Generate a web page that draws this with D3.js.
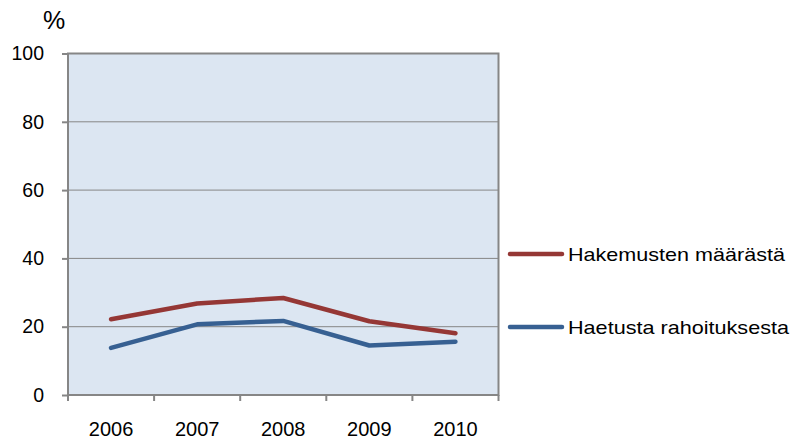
<!DOCTYPE html>
<html>
<head>
<meta charset="utf-8">
<script src="https://cdn.jsdelivr.net/npm/d3@7"></script>
<style>
  body { margin: 0; background: #fff; }
  text { font-family: "Liberation Sans", Arial, sans-serif; fill: #000; }
</style>
</head>
<body>
<svg id="chart" width="792" height="443"></svg>
<script>
var years = ["2006", "2007", "2008", "2009", "2010"];
var hakemusten = [22.2, 26.8, 28.4, 21.6, 18.1];
var haetusta = [13.8, 20.7, 21.7, 14.5, 15.6];
var yTicks = [0, 20, 40, 60, 80, 100];
var seriesNames = ["Hakemusten määrästä", "Haetusta rahoituksesta"];
var seriesColors = ["#953735", "#376092"];

var svg = d3.select("#chart");
var plotLeft = 68, plotRight = 498.5, plotTop = 53.5, plotBottom = 395;

var x = d3.scaleBand().domain(years).range([plotLeft, plotRight]);
var y = d3.scaleLinear().domain([0, 100]).range([plotBottom, plotTop]);

// plot area
svg.append("rect")
  .attr("x", plotLeft).attr("y", plotTop)
  .attr("width", plotRight - plotLeft).attr("height", plotBottom - plotTop)
  .attr("fill", "#dce6f2");

// gridlines
svg.append("g").selectAll("line").data(yTicks.filter(function (d) { return d > 0 && d < 100; }))
  .enter().append("line")
    .attr("x1", plotLeft).attr("x2", plotRight)
    .attr("y1", function (d) { return y(d); })
    .attr("y2", function (d) { return y(d); })
    .attr("stroke", "#868686").attr("stroke-width", 1);

// frame
svg.append("rect")
  .attr("x", plotLeft).attr("y", plotTop)
  .attr("width", plotRight - plotLeft).attr("height", plotBottom - plotTop)
  .attr("fill", "none").attr("stroke", "#868686").attr("stroke-width", 2);

// y axis
var yAxis = svg.append("g")
  .attr("transform", "translate(" + plotLeft + ",0)")
  .call(d3.axisLeft(y).tickValues(yTicks).tickSize(6).tickPadding(18));
yAxis.select(".domain").remove();
yAxis.selectAll("line").attr("stroke", "#868686").attr("stroke-width", 2);
yAxis.selectAll("text").attr("font-size", "19.5px").attr("font-family", null).attr("fill", "#000");

// x axis
var xAxis = svg.append("g")
  .attr("transform", "translate(0," + plotBottom + ")")
  .call(d3.axisBottom(x).tickSize(0).tickPadding(27));
xAxis.select(".domain").remove();
xAxis.selectAll("text").attr("font-size", "20px").attr("font-family", null).attr("fill", "#000");

var bounds = x.domain().map(function (d) { return x(d); }).concat([plotRight]);
svg.append("g").selectAll("line").data(bounds).enter().append("line")
  .attr("x1", function (d) { return d; }).attr("x2", function (d) { return d; })
  .attr("y1", plotBottom).attr("y2", plotBottom + 6)
  .attr("stroke", "#868686").attr("stroke-width", 2);

// % label
svg.append("text").attr("x", 54).attr("y", 29)
  .attr("text-anchor", "middle").attr("font-size", "25px").text("%");

// lines
var line = d3.line()
  .x(function (d, i) { return x(years[i]) + x.bandwidth() / 2; })
  .y(function (d) { return y(d); });

[hakemusten, haetusta].forEach(function (s, i) {
  svg.append("path").datum(s)
    .attr("d", line)
    .attr("fill", "none")
    .attr("stroke", seriesColors[i])
    .attr("stroke-width", 4.5)
    .attr("stroke-linecap", "round")
    .attr("stroke-linejoin", "round");
});

// legend
var legendY = [254, 327];
seriesNames.forEach(function (name, i) {
  svg.append("line")
    .attr("x1", 510).attr("x2", 562)
    .attr("y1", legendY[i]).attr("y2", legendY[i])
    .attr("stroke", seriesColors[i]).attr("stroke-width", 4.5)
    .attr("stroke-linecap", "round");
  svg.append("text")
    .attr("x", 568).attr("y", legendY[i] + 7)
    .attr("font-size", "19px")
    .attr("textLength", i === 0 ? 217 : 221)
    .attr("lengthAdjust", "spacingAndGlyphs")
    .text(name);
});
</script>
</body>
</html>
